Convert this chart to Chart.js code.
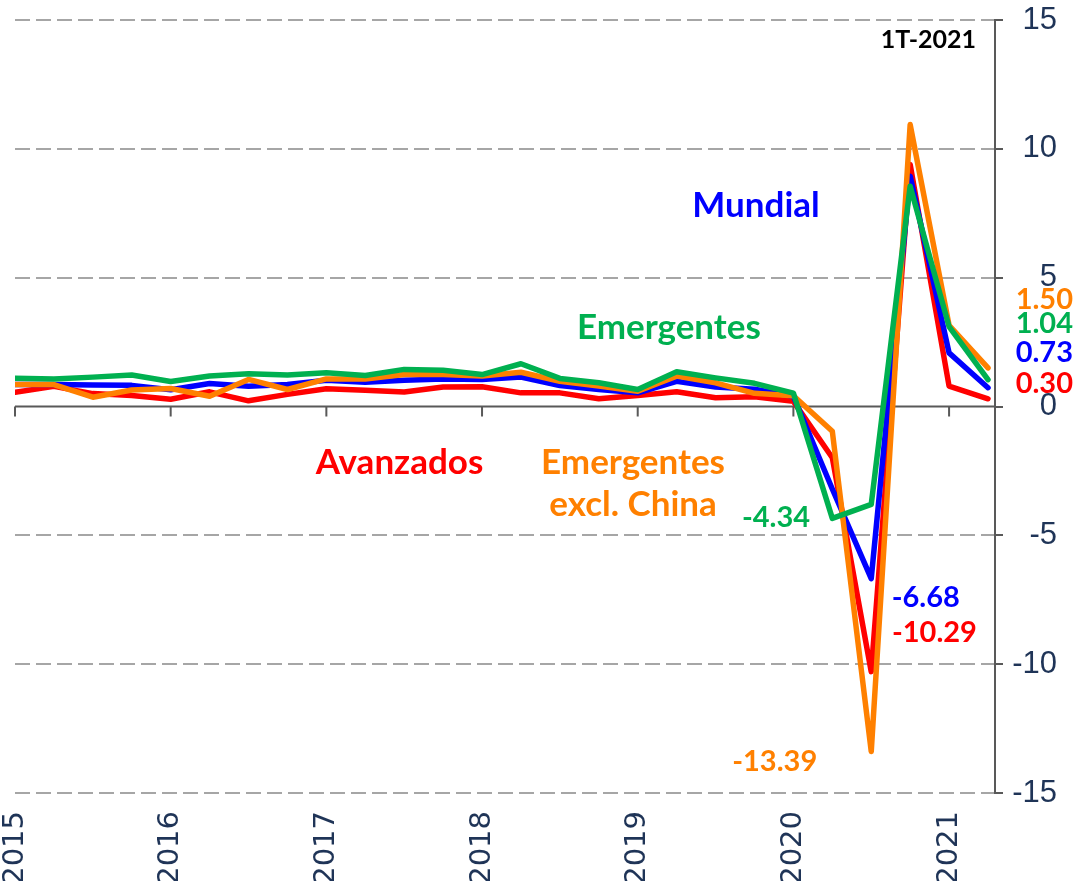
<!DOCTYPE html>
<html>
<head>
<meta charset="utf-8">
<script src="https://cdn.jsdelivr.net/npm/chart.js@4/dist/chart.umd.min.js"></script>
<style>
  html, body { margin: 0; padding: 0; background: #fff; }
  #wrap { width: 1076px; height: 881px; }
</style>
</head>
<body>
<div id="wrap"><canvas id="chart"></canvas></div>
<script>
// quarterly growth, 4T-2014 .. 1T-2021
const quarters = ['4T-2014',
  '1T-2015','2T-2015','3T-2015','4T-2015',
  '1T-2016','2T-2016','3T-2016','4T-2016',
  '1T-2017','2T-2017','3T-2017','4T-2017',
  '1T-2018','2T-2018','3T-2018','4T-2018',
  '1T-2019','2T-2019','3T-2019','4T-2019',
  '1T-2020','2T-2020','3T-2020','4T-2020',
  '1T-2021'];
const emergentes =   [1.10, 1.07, 1.14, 1.22, 0.97, 1.18, 1.27, 1.22, 1.31, 1.20, 1.44, 1.41, 1.24, 1.66, 1.09, 0.92, 0.66, 1.35, 1.11, 0.90, 0.52, -4.34, -3.80, 8.55, 3.10, 1.04];
const mundial =      [0.85, 0.85, 0.83, 0.82, 0.65, 0.89, 0.79, 0.85, 1.02, 0.94, 1.02, 1.07, 1.05, 1.14, 0.81, 0.66, 0.53, 0.98, 0.76, 0.67, 0.40, -3.20, -6.68, 8.94, 2.08, 0.73];
const avanzados =    [0.55, 0.78, 0.50, 0.43, 0.28, 0.57, 0.22, 0.47, 0.69, 0.63, 0.56, 0.76, 0.77, 0.53, 0.53, 0.30, 0.43, 0.57, 0.34, 0.38, 0.20, -1.99, -10.29, 9.39, 0.79, 0.30];
const emergExChina = [0.85, 0.85, 0.36, 0.64, 0.70, 0.40, 1.05, 0.66, 1.07, 1.07, 1.24, 1.24, 1.18, 1.33, 0.98, 0.79, 0.59, 1.18, 0.92, 0.51, 0.42, -0.96, -13.39, 10.94, 3.15, 1.50];
const years = [2015, 2016, 2017, 2018, 2019, 2020, 2021];
const yTicks = [-15, -10, -5, 0, 5, 10, 15];

const BLUE = '#0000FF', RED = '#FF0000', GREEN = '#00B050', ORANGE = '#FF8000';

// quarter label -> position in years (end of quarter)
const qPos = q => +q.split('-')[1] + (+q[0]) / 4;
const pts = arr => arr.map((v, i) => ({ x: qPos(quarters[i]), y: v }));

// text notes, in chart coordinates (x in years, y in %)
const notes = [
  { text: '1T-2021', color: '#000', x: 2021.173, y: 14.22, align: 'right', size: 25 },
  { text: 'Mundial', color: BLUE, x: 2019.76, y: 7.78, align: 'center', size: 35 },
  { text: 'Emergentes', color: GREEN, x: 2019.20, y: 3.05, align: 'center', size: 35 },
  { text: 'Avanzados', color: RED, x: 2017.47, y: -2.19, align: 'center', size: 35 },
  { text: 'Emergentes', color: ORANGE, x: 2018.97, y: -2.19, align: 'center', size: 35 },
  { text: 'excl. China', color: ORANGE, x: 2018.97, y: -3.82, align: 'center', size: 35 },
  { text: '-4.34', color: GREEN, x: 2019.888, y: -4.33, align: 'center', size: 29 },
  { text: '-6.68', color: BLUE, x: 2020.85, y: -7.43, align: 'center', size: 29 },
  { text: '-10.29', color: RED, x: 2020.906, y: -8.79, align: 'center', size: 29 },
  { text: '-13.39', color: ORANGE, x: 2019.88, y: -13.80, align: 'center', size: 29 },
  { text: '1.50', color: ORANGE, x: 2021.796, y: 4.13, align: 'right', size: 29 },
  { text: '1.04', color: GREEN, x: 2021.796, y: 3.20, align: 'right', size: 29 },
  { text: '0.73', color: BLUE, x: 2021.796, y: 2.08, align: 'right', size: 29 },
  { text: '0.30', color: RED, x: 2021.796, y: 0.87, align: 'right', size: 29 }
];

const zeroAxis = {
  id: 'zeroAxis',
  beforeDatasetsDraw(chart) {
    const { ctx, chartArea: a, scales: { x, y } } = chart;
    const y0 = y.getPixelForValue(0);
    ctx.save();
    ctx.strokeStyle = '#595959';
    ctx.lineWidth = 2;
    ctx.beginPath();
    ctx.moveTo(a.left, y0); ctx.lineTo(a.right, y0);
    x.ticks.forEach(t => {
      const px = x.getPixelForValue(t.value);
      ctx.moveTo(px, y0); ctx.lineTo(px, y0 + 10);
    });
    ctx.stroke();
    ctx.restore();
  }
};

const noteText = {
  id: 'noteText',
  afterDatasetsDraw(chart) {
    const { ctx, scales: { x, y } } = chart;
    ctx.save();
    ctx.textBaseline = 'middle';
    notes.forEach(n => {
      ctx.font = `bold ${n.size}px Lato`;
      ctx.fillStyle = n.color;
      ctx.textAlign = n.align;
      ctx.fillText(n.text, x.getPixelForValue(n.x), y.getPixelForValue(n.y));
    });
    ctx.restore();
  }
};

const line = (label, data, color) => ({
  label, data: pts(data), borderColor: color, backgroundColor: color,
  borderWidth: 5.5, pointRadius: 0, tension: 0, fill: false,
  borderJoinStyle: 'round', borderCapStyle: 'round'
});

new Chart(document.getElementById('chart'), {
  type: 'line',
  data: {
    // first dataset is painted last (on top)
    datasets: [
      line('Emergentes', emergentes, GREEN),
      line('Emergentes excl. China', emergExChina, ORANGE),
      line('Mundial', mundial, BLUE),
      line('Avanzados', avanzados, RED)
    ]
  },
  options: {
    responsive: true,
    maintainAspectRatio: false,
    animation: false,
    layout: { padding: { left: 15, top: 20, right: 19, bottom: 0 } },
    plugins: { legend: { display: false }, tooltip: { enabled: false } },
    scales: {
      x: {
        type: 'linear',
        position: 'bottom',
        min: 2015,
        max: 2021.295,
        afterBuildTicks: s => { s.ticks = years.map(v => ({ value: v })); },
        afterFit: s => { s.height = 88; },
        grid: { display: false },
        border: { display: false },
        ticks: {
          includeBounds: false,
          minRotation: 90, maxRotation: 90,
          padding: 10,
          color: '#1F3457',
          font: { family: 'DejaVu Sans', size: 29 },
          callback: v => String(v)
        }
      },
      y: {
        position: 'right',
        min: -15,
        max: 15,
        afterBuildTicks: s => { s.ticks = yTicks.map(v => ({ value: v })); },
        afterFit: s => { s.width = 62; s.paddingTop = 0; s.paddingBottom = 0; },
        grid: {
          color: c => c.tick && c.tick.value === 0 ? 'rgba(0,0,0,0)' : '#A6A6A6',
          lineWidth: 2,
          tickColor: '#595959',
          tickLength: 8
        },
        border: { display: true, color: '#595959', width: 2, dash: [15, 6] },
        ticks: {
          padding: 9,
          crossAlign: 'far',
          color: '#1F3457',
          font: { family: 'Liberation Sans', size: 31 },
          callback: v => String(v)
        }
      }
    }
  },
  plugins: [zeroAxis, noteText]
});
</script>
</body>
</html>
